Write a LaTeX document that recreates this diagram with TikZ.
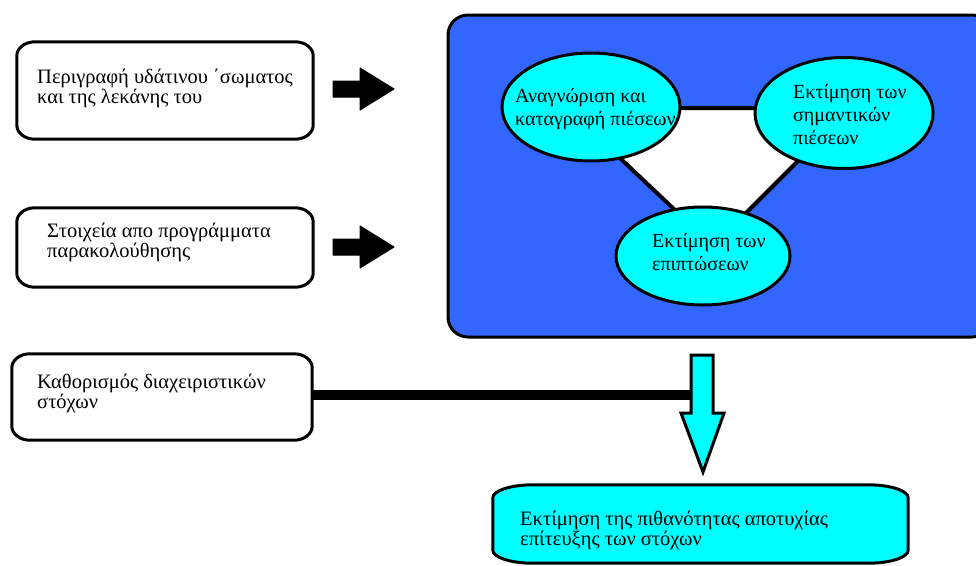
\documentclass[tikz,border=0pt]{standalone}
\usepackage{fontspec}
\setmainfont{Liberation Serif}
\usetikzlibrary{calc,shapes.geometric}

\definecolor{panelblue}{RGB}{51,102,255}
\definecolor{aqua}{RGB}{0,255,255}

\tikzset{
  frame/.style={draw=none, inner sep=0pt, minimum width=#1},
  outline/.style={draw=black, line width=3pt, line join=round},
  lbl/.style={anchor=north west, inner sep=0pt, align=left, font=\fontsize{20.5}{20}\selectfont},
  ovallbl/.style={lbl, font=\fontsize{20}{23}\selectfont},
  oval/.style={ellipse, draw=black, line width=3pt, fill=aqua, inner sep=0pt},
  link/.style={draw=black, line width=4pt},
  bar/.style={draw=black, line width=10pt},
  blockarrow/.style={fill=black, draw=black, line width=1pt, line join=round},
  downarrow/.style={fill=aqua, draw=black, line width=3pt, line join=miter}
}

% box with flat top and bottom and elliptic corners; #2 node, #3/#4 corner radii
\newcommand\flatbox[4][]{%
  \draw[outline,#1] ($(#2.north west)+(#3,0)$) -- ($(#2.north east)+(-#3,0)$)
    .. controls ($(#2.north east)+(-0.45*#3,0)$) and ($(#2.north east)+(0,0.45*#4)$) .. ($(#2.north east)+(0,#4)$)
    -- ($(#2.south east)+(0,-#4)$)
    .. controls ($(#2.south east)+(0,-0.45*#4)$) and ($(#2.south east)+(-0.45*#3,0)$) .. ($(#2.south east)+(-#3,0)$)
    -- ($(#2.south west)+(#3,0)$)
    .. controls ($(#2.south west)+(0.45*#3,0)$) and ($(#2.south west)+(0,-0.45*#4)$) .. ($(#2.south west)+(0,-#4)$)
    -- ($(#2.north west)+(0,#4)$)
    .. controls ($(#2.north west)+(0,0.45*#4)$) and ($(#2.north west)+(0.45*#3,0)$) .. cycle;}

% solid right-pointing block arrow, #1 = left end, #2 = vertical centre
\newcommand\rightblock[2]{%
  \draw[blockarrow] (#1,#2-8) -- (#1+27,#2-8) -- (#1+27,#2-21) -- (#1+61,#2)
    -- (#1+27,#2+21) -- (#1+27,#2+8) -- (#1,#2+8) -- cycle;}

\begin{document}
\begin{tikzpicture}[x=1pt,y=-1pt]
\useasboundingbox (0,0) rectangle (976,565);
\clip (0,0) rectangle (976,565);

% ---- input boxes on the left
\node[frame=296, minimum height=97] (b1) at (165,90.5) {};
\node[frame=296, minimum height=79] (b2) at (165,247.5) {};
\node[frame=300, minimum height=86] (b3) at (162,397) {};
\flatbox{b1}{18}{14}
\flatbox{b2}{18}{14}
\flatbox{b3}{18}{14}
\node[lbl] (t1) at (37,69) {Περιγραφή υδάτινου ΄σωματος\\και της λεκάνης του};
\node[lbl] (t2) at (47,223) {Στοιχεία απο προγράμματα\\παρακολούθησης};
\node[lbl] (t3) at (37,374) {Καθορισμός διαχειριστικών\\στόχων};

\rightblock{333}{89}
\rightblock{333}{247}

% ---- pressure analysis panel
\node[draw=black, line width=3pt, fill=panelblue, rounded corners=20pt,
      minimum width=544, minimum height=322, inner sep=0pt] (panel) at (720,176) {};

\coordinate (ta) at (567,108);
\coordinate (tb) at (851,108);
\coordinate (tc) at (713,246);
\draw[link, fill=white] (ta) -- (tb) -- (tc) -- cycle;

\node[oval, minimum width=178, minimum height=108] (e1) at (591,107) {};
\node[oval, minimum width=178, minimum height=111] (e2) at (844,113) {};
\node[oval, minimum width=174, minimum height=98] (e3) at (703,256) {};
\node[ovallbl] (l1) at (515,88) {Αναγνώριση και\\καταγραφή πιέσεων};
\node[ovallbl] (l2) at (793,84) {Εκτίμηση των\\σημαντικών\\πιέσεων};
\node[ovallbl] (l3) at (652,233) {Εκτίμηση των\\επιπτώσεων};

% ---- down arrow towards the result
\coordinate (dl) at (691,395);
\draw[bar] (b3.east |- dl) -- (dl);
\draw[downarrow] (691,355) -- (713,355) -- (713,413) -- (724,413) -- (703,472)
  -- (681,413) -- (691,413) -- cycle;

% ---- result box
\node[frame=415, minimum height=78] (b4) at (700.5,524) {};
\flatbox[fill=aqua]{b4}{40}{13}
\node[lbl] (t4) at (520,511) {Εκτίμηση της πιθανότητας αποτυχίας\\επίτευξης των στόχων};
\end{tikzpicture}
\end{document}
